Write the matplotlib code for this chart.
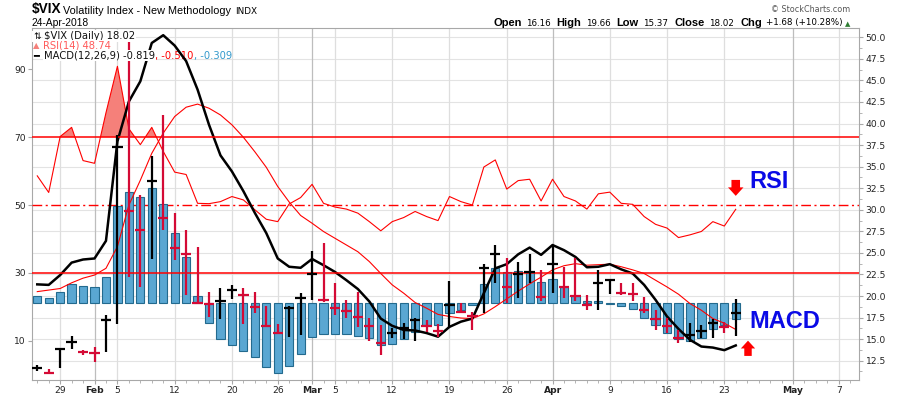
import numpy as np
import pandas as pd
import matplotlib
matplotlib.use('Agg')
import matplotlib.pyplot as plt
from matplotlib.patches import FancyArrow

# trading calendar (Jan 25 - May 2018), market holidays removed
HOLIDAYS = ['2018-02-19', '2018-03-30']
TICK_DATES = ['2018-01-29', '2018-02-01', '2018-02-05', '2018-02-12', '2018-02-20',
              '2018-02-26', '2018-03-01', '2018-03-05', '2018-03-12', '2018-03-19',
              '2018-03-26', '2018-04-02', '2018-04-09', '2018-04-16', '2018-04-23',
              '2018-05-01', '2018-05-07']

# $VIX daily bars, Jan 25 .. Apr 24
high = [11.95, 11.5, 13.9, 15.4, 13.75, 14.1, 17.8, 38.7, 50.3, 31.7,
        36.2, 41.0, 29.6, 27.7, 25.7, 20.5, 20.9, 21.3, 20.9, 20.5,
        18.8, 16.8, 18.8, 20.4, 25.2, 26.1, 21.55, 19.55, 20.5, 17.5,
        16.6, 16.3, 16.85, 17.5, 17.2, 16.7, 21.7, 19.2, 18.2, 23.7,
        25.9, 24.4, 23.9, 24.9, 23.0, 25.9, 23.4, 24.4, 20.1, 23.0,
        21.95, 21.55, 21.55, 19.85, 18.4, 17.5, 16.05, 16.85, 16.65, 17.3,
        17.0, 19.66]
low = [11.35, 11.05, 11.7, 13.8, 13.2, 12.4, 13.5, 16.8, 22.2, 21.1,
       24.3, 27.6, 24.2, 20.1, 19.1, 17.6, 17.3, 19.6, 16.8, 18.0,
       16.4, 15.6, 15.2, 15.5, 19.5, 19.3, 17.8, 17.4, 16.4, 14.8,
       13.2, 15.1, 15.0, 14.8, 15.85, 15.2, 16.3, 18.05, 16.1, 18.0,
       21.5, 19.2, 19.75, 21.55, 19.45, 20.3, 19.75, 19.45, 18.4, 18.4,
       20.2, 20.1, 19.45, 18.05, 16.05, 15.75, 14.5, 14.7, 15.1, 15.1,
       15.75, 15.37]
close = [11.6, 11.1, 13.8, 14.7, 13.55, 13.4, 17.2, 37.3, 29.9, 27.7,
         33.3, 29.0, 25.6, 24.85, 19.2, 19.07, 19.46, 20.7, 20.1, 18.76,
         16.5, 15.75, 18.6, 19.75, 22.5, 19.55, 18.6, 18.3, 17.6, 16.5,
         14.6, 15.7, 16.3, 17.2, 16.55, 15.9, 19.0, 18.2, 17.7, 23.2,
         24.85, 21.0, 22.5, 22.8, 19.9, 23.7, 21.1, 20.0, 18.95, 21.5,
         21.85, 20.4, 20.2, 18.4, 17.3, 16.5, 15.1, 15.5, 16.0, 16.85,
         16.35, 18.02]

# RSI(14)
rsi = [58.6, 53.7, 70.2, 72.9, 63.1, 62.3, 77.2, 90.9, 72.5, 67.8,
       72.9, 65.8, 59.7, 59.0, 50.5, 50.4, 51.0, 52.5, 51.5, 48.6,
       45.8, 45.1, 50.3, 52.2, 56.1, 50.5, 49.4, 48.8, 47.6, 45.1,
       42.4, 45.1, 46.3, 48.1, 46.6, 45.4, 52.5, 51.0, 50.0, 61.2,
       63.3, 54.7, 57.2, 57.6, 51.2, 57.6, 52.5, 51.2, 48.8, 53.3,
       53.8, 50.5, 50.2, 46.6, 44.3, 43.2, 40.4, 41.2, 42.2, 45.1,
       43.8, 48.74]

# MACD(12,26,9)
macd = [0.36, 0.35, 0.54, 0.78, 0.84, 0.86, 1.20, 3.12, 3.89, 4.28,
        5.02, 5.17, 4.97, 4.67, 4.12, 3.44, 2.85, 2.54, 2.16, 1.74,
        1.35, 0.86, 0.70, 0.68, 0.85, 0.73, 0.60, 0.44, 0.27, 0.03,
        -0.30, -0.44, -0.52, -0.53, -0.58, -0.65, -0.46, -0.36, -0.30, 0.19,
        0.67, 0.75, 0.94, 1.07, 0.93, 1.12, 1.02, 0.89, 0.69, 0.70,
        0.75, 0.65, 0.57, 0.35, 0.06, -0.26, -0.50, -0.71, -0.84, -0.86,
        -0.91, -0.819]
signal = [0.22, 0.25, 0.28, 0.39, 0.48, 0.54, 0.67, 1.09, 1.89, 2.37,
          2.89, 3.28, 3.60, 3.78, 3.84, 3.76, 3.63, 3.44, 3.20, 2.92,
          2.62, 2.25, 1.95, 1.69, 1.54, 1.38, 1.25, 1.12, 0.99, 0.80,
          0.57, 0.35, 0.19, 0.01, -0.10, -0.22, -0.26, -0.29, -0.30, -0.21,
          -0.07, 0.08, 0.23, 0.37, 0.50, 0.64, 0.72, 0.76, 0.73, 0.74,
          0.75, 0.70, 0.64, 0.57, 0.44, 0.31, 0.17, -0.01, -0.14, -0.30,
          -0.39, -0.51]
hist = [0.135, 0.09, 0.22, 0.36, 0.33, 0.30, 0.50, 1.87, 2.15, 2.05,
        2.23, 1.92, 1.36, 0.88, 0.135, -0.39, -0.70, -0.81, -0.93, -1.04,
        -1.23, -1.35, -1.22, -0.99, -0.65, -0.60, -0.60, -0.60, -0.63, -0.68,
        -0.82, -0.80, -0.70, -0.55, -0.42, -0.42, -0.19, -0.14, -0.03, 0.36,
        0.68, 0.60, 0.62, 0.60, 0.40, 0.46, 0.31, 0.135, 0.03, 0.03,
        -0.01, -0.06, -0.12, -0.28, -0.42, -0.57, -0.70, -0.73, -0.68, -0.51,
        -0.42, -0.309]

RED = '#d40a35'
BLUE_TXT = '#0a0ae6'

days = pd.bdate_range('2018-01-25', '2018-05-11')
days = days[~days.isin(pd.to_datetime(HOLIDAYS))]
tick_dt = pd.to_datetime(TICK_DATES)
tick_pos = days.get_indexer(tick_dt)
tick_lbl = []
month_tick = []
for p, d in zip(tick_pos, tick_dt):
    first = days[p - 1].month != d.month
    month_tick.append(first)
    tick_lbl.append(d.strftime('%b') if first else str(d.day))

x = np.arange(len(close))
high = np.array(high)
low = np.array(low)
close = np.array(close)
rsi = np.array(rsi)
up = np.r_[True, close[1:] >= close[:-1]]
bar_colors = np.where(up, 'black', RED)

fig = plt.figure(figsize=(9, 3.96), dpi=100)
rect = [32 / 900, 16 / 396, 827.3 / 900, 352 / 396]

ax = fig.add_axes(rect, label='price')
ax_rsi = fig.add_axes(rect, label='rsi', sharex=ax)
ax_macd = fig.add_axes(rect, label='macd', sharex=ax)
ax_lvl = fig.add_axes(rect, label='levels', sharex=ax, sharey=ax_rsi)
ax_bars = fig.add_axes(rect, label='bars', sharex=ax, sharey=ax)

for a in (ax_rsi, ax_macd, ax_lvl, ax_bars):
    a.patch.set_visible(False)
    for s in a.spines.values():
        s.set_visible(False)
    a.tick_params(which='both', bottom=False, labelbottom=False,
                  left=False, labelleft=False, right=False, labelright=False)

ax.set_xlim(-0.46, 71.79)
ax.set_ylim(10.26, 51.08)
ax_rsi.set_ylim(-1.6, 102.2)
ax_macd.set_ylim(-1.486, 5.309)

# base axes: grid, price scale on the right, dates at the bottom
for s in ax.spines.values():
    s.set_color('#a8a8a8')
price_ticks = np.arange(12.5, 50.01, 2.5)
ax.yaxis.tick_right()
ax.set_yticks(price_ticks)
ax.set_yticklabels([f'{v:.1f}' for v in price_ticks])
ax.set_yticks(np.arange(11.25, 51, 2.5), minor=True)
for v in price_ticks:
    ax.axhline(v, color='#e3e3e3', lw=0.8, zorder=0)
for p, m in zip(tick_pos, month_tick):
    ax.axvline(p, color='#bdbdbd' if m else '#dedede', lw=0.9, zorder=0)
ax.set_xticks(tick_pos)
ax.set_xticklabels(tick_lbl)
ax.set_xticks(np.arange(0, 72), minor=True)
ax.tick_params(axis='both', which='major', length=3, width=0.8, color='#a8a8a8',
               labelsize=6.6, labelcolor='#222222', pad=1.5)
ax.tick_params(axis='both', which='minor', length=2, width=0.6, color='#a8a8a8')
ax.tick_params(axis='y', left=False, which='both')
for lbl, m in zip(ax.get_xticklabels(), month_tick):
    if m:
        lbl.set_fontweight('bold')

# RSI panel (left scale)
ax_rsi.tick_params(axis='y', which='major', left=True, labelleft=True, length=3,
                   width=0.8, color='#a8a8a8', labelsize=6.6, labelcolor='#222222', pad=1.5)
ax_rsi.set_yticks([10, 30, 50, 70, 90])
ax_rsi.fill_between(x, rsi, 70, where=rsi > 70, interpolate=True,
                    color='#f5807a', lw=0)
ax_rsi.plot(x, rsi, color='#ff0000', lw=0.8)
ax_rsi.axhline(50, color='#ff0000', lw=1.0, ls=(0, (7, 2.5, 1.5, 2.5)))

# MACD histogram and lines
ax_macd.bar(x, hist, width=0.72, color='#5aa7d2', edgecolor='#236a8e', lw=0.8)
ax_macd.plot(x, signal, color='#ff0000', lw=0.8)
ax_macd.plot(x, macd, color='black', lw=1.8)

ax_lvl.axhline(70, color='#ff0000', lw=1.1)
ax_lvl.axhline(30, color='#ff0000', lw=1.1)

# price bars
ax_bars.vlines(x, low, high, colors=bar_colors, lw=1.6)
ax_bars.hlines(close, x - 0.45, x + 0.45, colors=bar_colors, lw=1.6)

# annotations
ax_lvl.add_patch(FancyArrow(61, 57.4, 0, -4.7, width=0.75, head_width=1.35,
                            head_length=2.5, length_includes_head=True,
                            color='#ff0000', lw=0))
ax_lvl.add_patch(FancyArrow(62.07, 5.5, 0, 4.5, width=0.65, head_width=1.25,
                            head_length=2.3, length_includes_head=True,
                            color='#ff0000', lw=0))
ax_lvl.text(62.16, 55.0, 'RSI', color=BLUE_TXT, fontsize=17, fontweight='bold',
            family='Liberation Sans', va='baseline', ha='left')
ax_lvl.text(62.16, 13.7, 'MACD', color=BLUE_TXT, fontsize=17, fontweight='bold',
            family='Liberation Sans', va='baseline', ha='left')

# legend lines inside the chart
wbox = dict(facecolor='white', edgecolor='none', pad=0.6)
fig.text(33 / 900, 1 - 39 / 396, '\u21c5', fontsize=6.5, va='baseline', bbox=wbox)
fig.text(44 / 900, 1 - 39 / 396, '$VIX (Daily) 18.02', fontsize=7.2,
         va='baseline', color='#111111', bbox=wbox)
fig.text(33 / 900, 1 - 48.5 / 396, '\u25b2', fontsize=6, va='baseline', color='#f5807a')
fig.text(43 / 900, 1 - 48.5 / 396, 'RSI(14) 48.74', fontsize=7.2,
         va='baseline', color='#ff5a5a', bbox=wbox)
fig.text(33 / 900, 1 - 58.5 / 396, '\u2501', fontsize=7, va='baseline', color='black')
t = fig.text(44 / 900, 1 - 58.5 / 396, 'MACD(12,26,9) -0.819', fontsize=7.2,
             va='baseline', color='#111111', bbox=wbox)
t = ax.annotate(', -0.510', xy=(1, 0), xycoords=t, va='bottom', fontsize=7.2,
                color='#ff0000')
ax.annotate(', -0.309', xy=(1, 0), xycoords=t, va='bottom', fontsize=7.2,
            color='#3399cc')

# header
fig.text(32 / 900, 1 - 13.5 / 396, '$VIX', fontsize=9.8, fontweight='bold',
         family='Liberation Sans', va='baseline')
fig.text(63 / 900, 1 - 13.5 / 396, 'Volatility Index - New Methodology',
         fontsize=7.8, family='Liberation Sans', va='baseline')
fig.text(235 / 900, 1 - 13.5 / 396, 'INDX', fontsize=6.4, va='baseline')
fig.text(32 / 900, 1 - 26.5 / 396, '24-Apr-2018', fontsize=7.4,
         family='Liberation Sans', va='baseline')
fig.text(850 / 900, 1 - 11.5 / 396, '\u00a9 StockCharts.com', fontsize=5.8,
         color='#555555', ha='right', va='baseline')

pieces = [('Open', True), ('16.16', False), ('High', True), ('19.66', False),
          ('Low', True), ('15.37', False), ('Close', True), ('18.02', False),
          ('Chg', True), ('+1.68 (+10.28%)', False)]
t = fig.text(493 / 900, 1 - 25.5 / 396, pieces[0][0], fontsize=8,
             fontweight='bold', family='Liberation Sans', va='baseline')
for txt, bold in pieces[1:]:
    gap = 4.6 if bold else 3.0
    if bold:
        t = ax.annotate(txt, xy=(1, 0), xycoords=t, xytext=(gap, 0),
                        textcoords='offset points', va='bottom', fontsize=8,
                        fontweight='bold', family='Liberation Sans')
    else:
        t = ax.annotate(txt, xy=(1, 0), xycoords=t, xytext=(gap, 0),
                        textcoords='offset points', va='bottom', fontsize=6.3)
ax.annotate('\u25b2', xy=(1, 0), xycoords=t, xytext=(2, 0.5),
            textcoords='offset points', va='bottom', fontsize=5, color='#2e7d32')

fig.savefig('out.png', dpi=100)
